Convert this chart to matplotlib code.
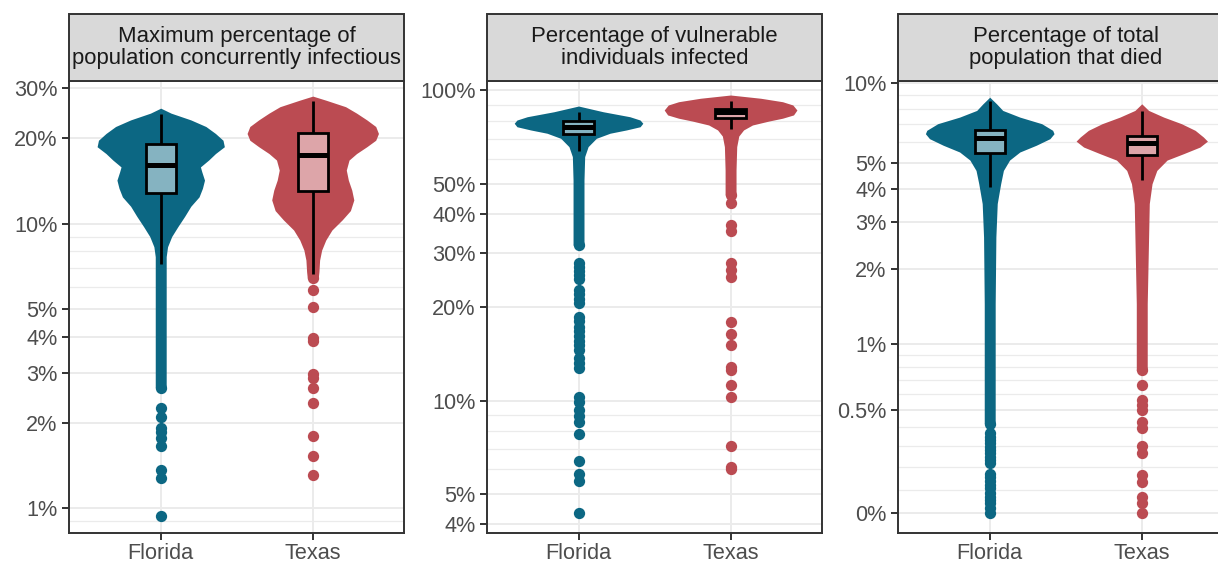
import numpy as np
import matplotlib
matplotlib.use('Agg')
import matplotlib.pyplot as plt
from matplotlib.patches import Rectangle
from matplotlib.ticker import FixedLocator, NullFormatter

plt.rcParams['font.family'] = ['Liberation Sans', 'DejaVu Sans']

states = ['Florida', 'Texas']
state_colors = ['#0C6783', '#BB4B52']

titles = ['Maximum percentage of\npopulation concurrently infectious',
          'Percentage of vulnerable\nindividuals infected',
          'Percentage of total\npopulation that died']

# violin outlines: value (%) and relative density (1 = widest)
peak_fl_values = [25.4, 24.4, 23.1, 21.9, 20.7, 19.6, 18.6, 17.6, 16.7, 15.8, 15.2,
                  14.2, 13.3, 12.4, 11.5, 10.6, 9.75, 9.0, 8.29, 7.65, 2.65]
peak_fl_density = [0, .15, .44, .66, .80, .91, .93, .80, .70, .58, .60,
                   .64, .61, .56, .44, .35, .25, .16, .10, .08, .08]
peak_tx_values = [28.0, 27.1, 25.7, 24.4, 23.1, 21.9, 20.7, 19.6, 18.6, 17.6, 16.7, 15.4,
                  14.2, 13.1, 12.1, 11.1, 10.3, 9.49, 8.75, 8.07, 7.44, 6.77, 6.43]
peak_tx_density = [0, .19, .48, .64, .79, .92, .96, .92, .79, .64, .53, .49,
                   .52, .57, .60, .55, .43, .28, .19, .13, .10, .09, .08]

vuln_fl_values = [89.1, 85.4, 82.3, 80.3, 78.4, 76.4, 74.6, 72.8, 70.1, 65.9, 61.2, 51.4, 31.7]
vuln_fl_density = [0, .36, .75, .90, .94, .90, .70, .46, .26, .14, .09, .08, .08]
vuln_tx_values = [96.7, 94.4, 92.0, 89.8, 86.5, 83.4, 81.4, 79.7, 77.4, 74.6, 71.3, 65.9, 55.4, 46.0]
vuln_tx_density = [0, .44, .76, .91, .97, .92, .76, .56, .32, .19, .12, .09, .08, .08]

died_fl_values = [8.83, 8.34, 7.88, 7.44, 7.03, 6.64, 6.45, 6.18, 5.84, 5.51, 5.14,
                  4.70, 4.19, 3.53, 2.64, 1.46, 0.42]
died_fl_density = [0, .10, .19, .44, .76, .92, .94, .88, .68, .44, .29,
                   .20, .16, .11, .09, .08, .08]
died_tx_values = [8.34, 7.88, 7.44, 7.03, 6.64, 6.27, 6.05, 5.75, 5.43, 5.14,
                  4.70, 4.19, 3.53, 2.64, 1.46, 0.774]
died_tx_density = [0, .10, .32, .58, .78, .90, .96, .85, .61, .37,
                   .22, .15, .11, .10, .08, .08]

# box stats: lower whisker, q1, median, q3, upper whisker
peak_fl_box = [7.21, 12.8, 16.0, 19.0, 24.2]
peak_tx_box = [6.65, 13.0, 17.4, 20.8, 26.9]
vuln_fl_box = [63.8, 72.4, 76.0, 80.0, 85.4]
vuln_tx_box = [75.0, 81.4, 85.2, 87.0, 92.7]
died_fl_box = [4.08, 5.46, 6.21, 6.68, 8.53]
died_tx_box = [4.31, 5.39, 5.95, 6.30, 7.83]

# outlying runs
peak_fl_out = [2.65, 2.25, 2.10, 1.91, 1.86, 1.76, 1.66, 1.36, 1.28, 0.94]
peak_tx_out = [6.43, 5.84, 5.08, 3.96, 3.88, 2.96, 2.86, 2.64, 2.35, 1.80, 1.53, 1.31]
vuln_fl_out = [31.7, 27.7, 27.0, 26.2, 25.4, 24.6, 22.8, 22.0, 21.2, 20.6, 18.6, 18.0,
               17.3, 16.7, 16.1, 15.6, 15.1, 14.6, 13.7, 13.2, 12.7, 10.3, 9.9, 9.3,
               8.9, 8.5, 7.8, 6.4, 5.8, 5.5, 4.35]
vuln_tx_out = [46.0, 43.3, 36.8, 35.3, 27.7, 26.4, 25.0, 17.96, 16.4, 15.1, 12.85,
               12.5, 11.2, 10.3, 7.13, 6.12, 6.0]
died_fl_out = [0.42, 0.367, 0.35, 0.332, 0.315, 0.298, 0.28, 0.266, 0.25, 0.233, 0.22,
               0.169, 0.155, 0.139, 0.12, 0.105, 0.087, 0.069, 0.055, 0.040, 0.02, 0.0]
died_tx_out = [0.774, 0.663, 0.561, 0.530, 0.500, 0.431, 0.399, 0.302, 0.269,
               0.164, 0.134, 0.069, 0.040, 0.0]

peak_ticks = [1, 2, 3, 4, 5, 10, 20, 30]
peak_minor = [0.9, 6, 7, 8, 9]
vuln_ticks = [4, 5, 10, 20, 30, 40, 50, 100]
vuln_minor = [6, 7, 8, 9, 60, 70, 80, 90]
died_ticks = [0, 0.5, 1, 2, 3, 4, 5, 10]
died_minor = [0.1, 0.2, 0.3, 0.4, 0.6, 0.7, 0.8, 0.9, 6, 7, 8, 9]

GRID = '#EBEBEB'
DARK = '#333333'


def lighten(c, amt=0.5):
    rgb = np.array(matplotlib.colors.to_rgb(c))
    return tuple(rgb + (1 - rgb) * amt)


def pct(v):
    return '{:g}%'.format(v)


def draw_state(ax, x, color, values, density, box, outliers):
    v = np.array(values)
    hw = 0.45 * np.array(density)
    ax.fill_betweenx(v, x - hw, x + hw, color=color, lw=0, zorder=2)
    ax.scatter([x] * len(outliers), outliers, s=66, color=color, lw=0, zorder=2)
    lo, q1, med, q3, hi = box
    ax.plot([x, x], [q3, hi], color='black', lw=2.0, zorder=3, solid_capstyle='butt')
    ax.plot([x, x], [lo, q1], color='black', lw=2.0, zorder=3, solid_capstyle='butt')
    ax.add_patch(Rectangle((x - 0.1, q1), 0.2, q3 - q1, facecolor=lighten(color),
                           edgecolor='black', lw=2.0, zorder=4))
    ax.plot([x - 0.1, x + 0.1], [med, med], color='black', lw=3.6, zorder=5,
            solid_capstyle='butt')


def style_panel(ax, title, ticks, minor, ylim):
    ax.set_ylim(*ylim)
    ax.set_xlim(0.4, 2.6)
    ax.yaxis.set_major_locator(FixedLocator(ticks))
    ax.set_yticklabels([pct(t) for t in ticks])
    ax.yaxis.set_minor_locator(FixedLocator(minor))
    ax.yaxis.set_minor_formatter(NullFormatter())
    ax.set_xticks([1, 2])
    ax.set_xticklabels(states)
    ax.set_axisbelow(True)
    ax.grid(True, which='major', color=GRID, lw=1.4)
    ax.grid(True, which='minor', axis='y', color=GRID, lw=0.9)
    ax.tick_params(which='major', direction='out', length=5, width=1.4, color=DARK,
                   labelsize=15.6, labelcolor='#4D4D4D', pad=3.5)
    ax.tick_params(axis='x', pad=2.5)
    ax.tick_params(which='minor', length=0)
    for s in ax.spines.values():
        s.set_color(DARK)
        s.set_linewidth(1.4)
    strip_h = (80.5 - 14.3) / 452.2
    ax.add_patch(Rectangle((0, 1), 1, strip_h, transform=ax.transAxes, clip_on=False,
                           facecolor='#D9D9D9', edgecolor=DARK, lw=1.4, zorder=6))
    ax.text(0.5, 1 + strip_h / 2, title, transform=ax.transAxes, ha='center',
            va='center', fontsize=15.9, color='#1A1A1A', linespacing=1.05, zorder=7)


fig = plt.figure(figsize=(12.18, 5.63), dpi=100)
bottom, height, width = 0.0538, 0.8032, 0.27463
ax1 = fig.add_axes([0.05706, bottom, width, height])
ax2 = fig.add_axes([0.40008, bottom, width, height])
ax3 = fig.add_axes([0.73768, bottom, width, height])

ax1.set_yscale('log')
ax2.set_yscale('log')
ax3.set_yscale('function', functions=(lambda v: np.arcsinh(np.asarray(v) / 0.5),
                                      lambda t: 0.5 * np.sinh(np.asarray(t))))

draw_state(ax1, 1, state_colors[0], peak_fl_values, peak_fl_density, peak_fl_box, peak_fl_out)
draw_state(ax1, 2, state_colors[1], peak_tx_values, peak_tx_density, peak_tx_box, peak_tx_out)
draw_state(ax2, 1, state_colors[0], vuln_fl_values, vuln_fl_density, vuln_fl_box, vuln_fl_out)
draw_state(ax2, 2, state_colors[1], vuln_tx_values, vuln_tx_density, vuln_tx_box, vuln_tx_out)
draw_state(ax3, 1, state_colors[0], died_fl_values, died_fl_density, died_fl_box, died_fl_out)
draw_state(ax3, 2, state_colors[1], died_tx_values, died_tx_density, died_tx_box, died_tx_out)

style_panel(ax1, titles[0], peak_ticks, peak_minor, (0.822, 31.76))
style_panel(ax2, titles[1], vuln_ticks, vuln_minor, (3.746, 107.7))
style_panel(ax3, titles[2], died_ticks, died_minor, (-0.0861, 10.19))

fig.savefig('out.png', dpi=100)
